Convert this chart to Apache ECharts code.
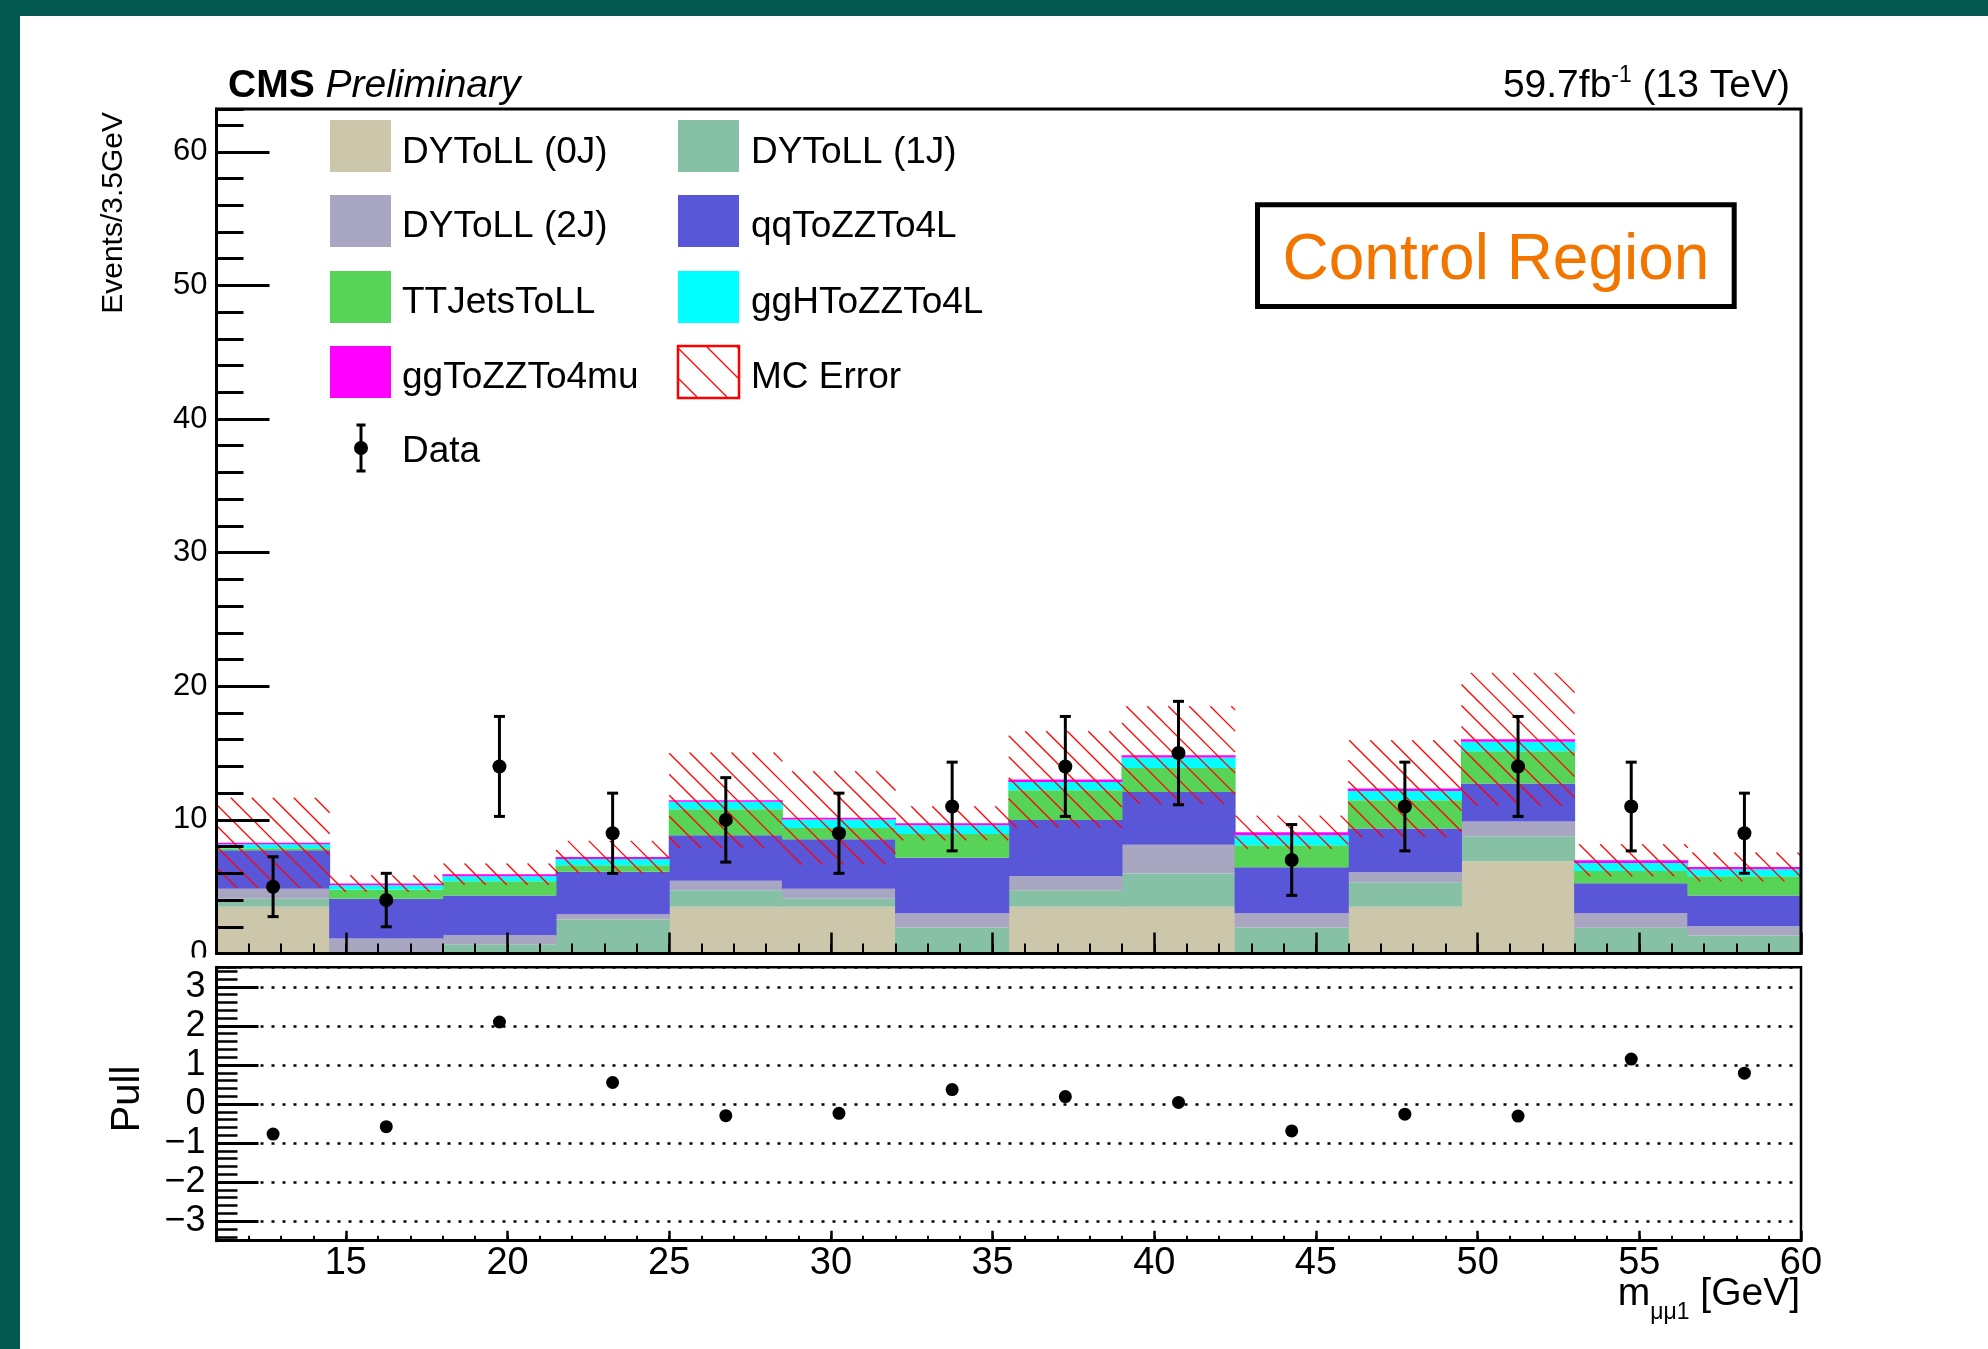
<!DOCTYPE html>
<html>
<head>
<meta charset="utf-8">
<title>Control Region - m_mumu1</title>
<script src="https://cdn.jsdelivr.net/npm/echarts@6/dist/echarts.min.js"></script>
<style>
  html, body { margin: 0; padding: 0; background: #ffffff; }
  #chart { width: 1988px; height: 1349px; }
</style>
</head>
<body>
<div id="chart"></div>
<script>
// ---- histogram content (3.5 GeV bins from 11 to 60 GeV) ----
const binEdges   = [11, 14.5, 18, 21.5, 25, 28.5, 32, 35.5, 39, 42.5, 46, 49.5, 53, 56.5, 60];
const binCenters = [12.75, 16.25, 19.75, 23.25, 26.75, 30.25, 33.75, 37.25, 40.75, 44.25, 47.75, 51.25, 54.75, 58.25];

// stacked MC components, events per bin
const dy0j    = [3.49, 0, 0, 0, 3.49, 3.49, 0, 3.49, 3.49, 0, 3.49, 6.91, 0, 0];
const dy1j    = [0.60, 0, 0.70, 2.55, 1.25, 0.60, 1.95, 1.25, 2.50, 1.95, 1.85, 1.87, 1.92, 1.35];
const dy2j    = [0.75, 1.12, 0.67, 0.39, 0.70, 0.75, 1.07, 1.05, 2.14, 1.07, 0.74, 1.10, 1.10, 0.69];
const qqzz    = [2.89, 2.97, 2.97, 3.17, 3.41, 3.71, 4.14, 4.21, 3.96, 3.44, 3.27, 2.84, 2.24, 2.30];
const ttjets  = [0.15, 0.70, 1.07, 0.50, 1.95, 0.85, 1.79, 2.22, 1.80, 1.64, 2.12, 2.42, 0.92, 1.45];
const gghzz   = [0.30, 0.32, 0.38, 0.47, 0.55, 0.62, 0.65, 0.62, 0.77, 0.75, 0.70, 0.70, 0.60, 0.52];
const ggzz4mu = [0.10, 0.13, 0.15, 0.15, 0.12, 0.13, 0.15, 0.18, 0.18, 0.23, 0.17, 0.19, 0.20, 0.17];

// total MC uncertainty per bin
const mcError = [3.37, 0.62, 0.79, 1.20, 3.57, 3.49, 1.27, 3.61, 3.66, 1.24, 3.62, 4.97, 1.20, 1.08];

// observed data and its uncertainty
const dataCounts = [5, 4, 14, 9, 10, 9, 11, 14, 15, 7, 11, 14, 11, 9];
const dataErrors = [2.24, 2.00, 3.74, 3.00, 3.16, 3.00, 3.32, 3.74, 3.87, 2.65, 3.32, 3.74, 3.32, 3.00];

// pull per bin
const pulls = [-0.77, -0.58, 2.10, 0.55, -0.30, -0.24, 0.37, 0.19, 0.04, -0.69, -0.26, -0.31, 1.15, 0.79];

const stackNames  = ['DYToLL (0J)', 'DYToLL (1J)', 'DYToLL (2J)', 'qqToZZTo4L', 'TTJetsToLL', 'ggHToZZTo4L', 'ggToZZTo4mu'];
const stackValues = [dy0j, dy1j, dy2j, qqzz, ttjets, gghzz, ggzz4mu];
const stackColors = ['#ccc7aa', '#86c1a6', '#a8a6c0', '#5a56d8', '#57d457', '#00ffff', '#ff00ff'];

// ---- helpers ----
const FONT = '"Liberation Sans", Arial, Helvetica, sans-serif';

// running sums give the lower edge of each stacked component
const stackBase = [];
let running = binCenters.map(() => 0);
stackValues.forEach(arr => {
  stackBase.push(running.slice());
  running = running.map((s, i) => s + arr[i]);
});
const mcTotal = running;

const measureCtx = document.createElement('canvas').getContext('2d');
function font(size, weight, style) {
  return (style || 'normal') + ' ' + (weight || 'normal') + ' ' + size + 'px ' + FONT;
}
function textWidth(str, size, weight, style) {
  measureCtx.font = font(size, weight, style);
  return measureCtx.measureText(str).width;
}
// vertical centre of a text line whose baseline sits at y
function mid(baseline, size) { return baseline - 0.35 * size; }

// 45 degree "\\\" hatch, aligned on one global lattice, clipped to a rectangle
function hatchLines(x0, y0, x1, y1, style, step, z) {
  const out = [];
  const cStart = Math.ceil((y0 - x1) / step) * step;
  for (let c = cStart; c <= y1 - x0; c += step) {
    const xa = Math.max(x0, y0 - c);
    const xb = Math.min(x1, y1 - c);
    if (xb > xa) {
      const seg = { type: 'line', shape: { x1: xa, y1: xa + c, x2: xb, y2: xb + c }, style: style };
      if (z != null) seg.z = z;
      out.push(seg);
    }
  }
  return out;
}

// ---- layout ----
const PLOT_LEFT = 216.5, PLOT_WIDTH = 1584.5;
const TOP_Y = 109, TOP_H = 844.5;
const PULL_Y = 967.3, PULL_H = 273.4;
const Y_MAX = 63.2;
const HATCH_STEP = 21;

const black = '#000000';

function valueAxis(extra) {
  return Object.assign({
    type: 'value',
    z: 10,
    axisLine: { show: true, onZero: false, lineStyle: { color: black, width: 3 } },
    axisTick: { show: true, inside: true, lineStyle: { color: black, width: 2.5 } },
    axisLabel: { show: false },
    splitLine: { show: false },
    axisPointer: { show: false }
  }, extra);
}

const xAxes = [
  valueAxis({ gridIndex: 0, position: 'bottom', min: 11, max: 60, minInterval: 5, maxInterval: 5,
    axisTick: { show: true, inside: true, length: 21, lineStyle: { color: black, width: 2.5 } } }),
  valueAxis({ gridIndex: 0, position: 'bottom', min: 11, max: 60, minInterval: 1, maxInterval: 1,
    axisLine: { show: false, onZero: false },
    axisTick: { show: true, inside: true, length: 10, lineStyle: { color: black, width: 2 } } }),
  valueAxis({ gridIndex: 1, position: 'bottom', min: 11, max: 60, minInterval: 5, maxInterval: 5,
    axisTick: { show: true, inside: true, length: 10, lineStyle: { color: black, width: 2.5 } },
    axisLabel: { show: true, color: black, fontFamily: FONT, fontSize: 38, margin: 23,
      verticalAlign: 'middle', showMinLabel: false } }),
  valueAxis({ gridIndex: 1, position: 'bottom', min: 11, max: 60, minInterval: 1, maxInterval: 1,
    axisLine: { show: false, onZero: false },
    axisTick: { show: true, inside: true, length: 5, lineStyle: { color: black, width: 2 } } })
];

const yAxes = [
  valueAxis({ gridIndex: 0, position: 'left', min: 0, max: Y_MAX, interval: 10,
    axisTick: { show: true, inside: true, length: 53, lineStyle: { color: black, width: 3 } },
    axisLabel: { show: true, color: black, fontFamily: FONT, fontSize: 31, margin: 9, showMaxLabel: false } }),
  valueAxis({ gridIndex: 0, position: 'left', min: 0, max: Y_MAX, interval: 2,
    axisLine: { show: false, onZero: false },
    axisTick: { show: true, inside: true, length: 27, lineStyle: { color: black, width: 3 } } }),
  valueAxis({ gridIndex: 1, position: 'left', min: -3.5, max: 3.5, minInterval: 1, maxInterval: 1,
    axisTick: { show: true, inside: true, length: 42, lineStyle: { color: black, width: 3 } },
    axisLabel: { show: true, color: black, fontFamily: FONT, fontSize: 36, margin: 11,
      showMinLabel: false, showMaxLabel: false,
      formatter: v => String(v).replace('-', '\u2212') },
    splitLine: { show: true, lineStyle: { color: black, width: 2.5, type: [3, 8] } } }),
  valueAxis({ gridIndex: 1, position: 'left', min: -3.5, max: 3.5, minInterval: 0.2, maxInterval: 0.2,
    axisLine: { show: false, onZero: false },
    axisTick: { show: true, inside: true, length: 21, lineStyle: { color: black, width: 2.5 } } })
];

// ---- series ----
// each MC component is drawn bin by bin as a filled box on top of the previous ones
const stackSeries = stackNames.map((name, k) => ({
  name: name,
  type: 'custom',
  xAxisIndex: 0, yAxisIndex: 0,
  silent: true,
  encode: { x: [0, 1], y: [2, 3] },
  data: binCenters.map((_, i) => [binEdges[i], binEdges[i + 1], stackBase[k][i], stackBase[k][i] + stackValues[k][i]]),
  renderItem: (params, api) => {
    if (api.value(3) <= api.value(2)) return null;
    const p0 = api.coord([api.value(0), api.value(3)]);
    const p1 = api.coord([api.value(1), api.value(2)]);
    return {
      type: 'rect',
      shape: { x: p0[0] - 0.5, y: p0[1], width: p1[0] - p0[0] + 1, height: p1[1] - p0[1] },
      style: { fill: stackColors[k] }
    };
  },
  z: 2
}));

const hatchStyle = { stroke: '#ff0000', lineWidth: 1.3 };
const mcErrorSeries = {
  name: 'MC Error',
  type: 'custom',
  xAxisIndex: 0, yAxisIndex: 0,
  silent: true,
  encode: { x: [0, 1], y: [2, 3] },
  data: mcTotal.map((t, i) => [binEdges[i], binEdges[i + 1], t - mcError[i], t + mcError[i]]),
  renderItem: (params, api) => {
    const p0 = api.coord([api.value(0), api.value(3)]);
    const p1 = api.coord([api.value(1), api.value(2)]);
    return { type: 'group', children: hatchLines(p0[0], p0[1], p1[0], p1[1], hatchStyle, HATCH_STEP) };
  },
  z: 3
};

const errStyle = { stroke: black, lineWidth: 3 };
const dataErrorSeries = {
  name: 'Data errors',
  type: 'custom',
  xAxisIndex: 0, yAxisIndex: 0,
  silent: true,
  encode: { x: 0, y: 1 },
  data: binCenters.map((c, i) => [c, dataCounts[i], dataErrors[i]]),
  renderItem: (params, api) => {
    const x = api.value(0), y = api.value(1), e = api.value(2);
    const lo = api.coord([x, y - e]);
    const hi = api.coord([x, y + e]);
    const cap = 5.5;
    return { type: 'group', children: [
      { type: 'line', shape: { x1: lo[0], y1: lo[1], x2: hi[0], y2: hi[1] }, style: errStyle },
      { type: 'line', shape: { x1: lo[0] - cap, y1: lo[1], x2: lo[0] + cap, y2: lo[1] }, style: errStyle },
      { type: 'line', shape: { x1: hi[0] - cap, y1: hi[1], x2: hi[0] + cap, y2: hi[1] }, style: errStyle }
    ] };
  },
  z: 4
};

const dataSeries = {
  name: 'Data',
  type: 'scatter',
  xAxisIndex: 0, yAxisIndex: 0,
  symbol: 'circle', symbolSize: 14,
  itemStyle: { color: black, opacity: 1 },
  silent: true,
  data: binCenters.map((c, i) => [c, dataCounts[i]]),
  z: 5
};

const pullSeries = {
  name: 'Pull',
  type: 'scatter',
  xAxisIndex: 2, yAxisIndex: 2,
  symbol: 'circle', symbolSize: 13,
  itemStyle: { color: black, opacity: 1 },
  silent: true,
  data: binCenters.map((c, i) => [c, pulls[i]]),
  z: 5
};

// ---- decorations: titles, legend, labels ----
const graphics = [];

// canvas frame band
graphics.push({ type: 'rect', z: 100, shape: { x: 0, y: 0, width: 1988, height: 16 }, style: { fill: '#03594f' } });
graphics.push({ type: 'rect', z: 100, shape: { x: 0, y: 0, width: 20, height: 1349 }, style: { fill: '#03594f' } });
// lower pad edge cuts the "0" label of the upper pad
graphics.push({ type: 'rect', z: 100, shape: { x: 150, y: 957.5, width: 62, height: 8 }, style: { fill: '#ffffff' } });

// CMS Preliminary
const cmsSize = 39, headBase = 100;
const cmsW = textWidth('CMS ', cmsSize, 'bold');
graphics.push({ type: 'text', x: 228, y: mid(headBase, cmsSize), z: 20,
  style: { text: 'CMS', font: font(cmsSize, 'bold'), fill: black, align: 'left', verticalAlign: 'middle' } });
graphics.push({ type: 'text', x: 228 + cmsW, y: mid(headBase, cmsSize), z: 20,
  style: { text: 'Preliminary', font: font(cmsSize, 'normal', 'italic'), fill: black, align: 'left', verticalAlign: 'middle' } });

// luminosity label
const lumiSize = 39, lumiSup = 23, lumiRight = 1790;
const wTail = textWidth(' (13 TeV)', lumiSize);
const wSup = textWidth('-1', lumiSup);
graphics.push({ type: 'text', x: lumiRight, y: mid(headBase, lumiSize), z: 20,
  style: { text: ' (13 TeV)', font: font(lumiSize), fill: black, align: 'right', verticalAlign: 'middle' } });
graphics.push({ type: 'text', x: lumiRight - wTail, y: mid(headBase - 16, lumiSup), z: 20,
  style: { text: '-1', font: font(lumiSup), fill: black, align: 'right', verticalAlign: 'middle' } });
graphics.push({ type: 'text', x: lumiRight - wTail - wSup, y: mid(headBase, lumiSize), z: 20,
  style: { text: '59.7fb', font: font(lumiSize), fill: black, align: 'right', verticalAlign: 'middle' } });

// region box
graphics.push({ type: 'rect', z: 20, shape: { x: 1257.5, y: 204.8, width: 476.7, height: 101.7 },
  style: { fill: '#ffffff', stroke: black, lineWidth: 5 } });
graphics.push({ type: 'text', x: 1496, y: 261, z: 21,
  style: { text: 'Control Region', font: font(64), fill: '#f27500', align: 'center', verticalAlign: 'middle' } });

// axis titles
graphics.push({ type: 'text', x: 114, y: 112, rotation: Math.PI / 2, z: 20,
  style: { text: 'Events/3.5GeV', font: font(30), fill: black, align: 'right', verticalAlign: 'middle' } });
graphics.push({ type: 'text', x: 128, y: 1099, rotation: Math.PI / 2, z: 20,
  style: { text: 'Pull', font: font(40), fill: black, align: 'center', verticalAlign: 'middle' } });

const xtSize = 39, xtSub = 23, xtRight = 1800;
const wUnit = textWidth(' [GeV]', xtSize);
const wSub = textWidth('\u03bc\u03bc1', xtSub);
graphics.push({ type: 'text', x: xtRight, y: mid(1308, xtSize), z: 20,
  style: { text: ' [GeV]', font: font(xtSize), fill: black, align: 'right', verticalAlign: 'middle' } });
graphics.push({ type: 'text', x: xtRight - wUnit, y: mid(1321, xtSub), z: 20,
  style: { text: '\u03bc\u03bc1', font: font(xtSub), fill: black, align: 'right', verticalAlign: 'middle' } });
graphics.push({ type: 'text', x: xtRight - wUnit - wSub, y: mid(1308, xtSize), z: 20,
  style: { text: 'm', font: font(xtSize), fill: black, align: 'right', verticalAlign: 'middle' } });

// legend (two columns, filled boxes, hatched box, marker)
const legendSwatchX = [330, 678];
const legendTextX = [402, 751];
const legendRowTop = [120, 195, 271, 346];
const legendTextY = [152.5, 227, 303, 377.5, 451.5];
const SW_W = 61, SW_H = 52, legendSize = 37;

const legendItems = stackNames.map((name, k) => ({ name: name, color: stackColors[k] }));
legendItems.push({ name: 'MC Error', hatch: true });
legendItems.forEach((item, idx) => {
  const col = idx % 2, row = Math.floor(idx / 2);
  const sx = legendSwatchX[col], sy = legendRowTop[row];
  if (item.hatch) {
    graphics.push({ type: 'rect', z: 20, shape: { x: sx, y: sy, width: SW_W, height: SW_H },
      style: { fill: '#ffffff', stroke: '#ff0000', lineWidth: 2.5 } });
    hatchLines(sx + 1, sy + 1, sx + SW_W - 1, sy + SW_H - 1, hatchStyle, 30, 22).forEach(seg => graphics.push(seg));
  } else {
    graphics.push({ type: 'rect', z: 20, shape: { x: sx, y: sy, width: SW_W, height: SW_H },
      style: { fill: item.color } });
  }
  graphics.push({ type: 'text', x: legendTextX[col], y: legendTextY[row], z: 20,
    style: { text: item.name, font: font(legendSize), fill: black, align: 'left', verticalAlign: 'middle' } });
});
// data marker entry
const mkX = 361, mkY = 448;
[
  { type: 'line', shape: { x1: mkX, y1: 425, x2: mkX, y2: 471 }, style: { stroke: black, lineWidth: 3 } },
  { type: 'line', shape: { x1: mkX - 4.5, y1: 425, x2: mkX + 4.5, y2: 425 }, style: { stroke: black, lineWidth: 3 } },
  { type: 'line', shape: { x1: mkX - 4.5, y1: 471, x2: mkX + 4.5, y2: 471 }, style: { stroke: black, lineWidth: 3 } },
  { type: 'circle', shape: { cx: mkX, cy: mkY, r: 7 }, style: { fill: black } }
].forEach(el => { el.z = 22; graphics.push(el); });
graphics.push({ type: 'text', x: legendTextX[0], y: legendTextY[4], z: 20,
  style: { text: 'Data', font: font(legendSize), fill: black, align: 'left', verticalAlign: 'middle' } });

// ---- chart ----
const chart = echarts.init(document.getElementById('chart'), null, { renderer: 'canvas' });
chart.setOption({
  animation: false,
  backgroundColor: '#ffffff',
  grid: [
    { left: PLOT_LEFT, top: TOP_Y, width: PLOT_WIDTH, height: TOP_H, show: true, z: 10,
      borderColor: black, borderWidth: 3, backgroundColor: 'transparent', containLabel: false, outerBoundsMode: 'none' },
    { left: PLOT_LEFT, top: PULL_Y, width: PLOT_WIDTH, height: PULL_H, show: true, z: 10,
      borderColor: black, borderWidth: 2.5, backgroundColor: 'transparent', containLabel: false, outerBoundsMode: 'none' }
  ],
  xAxis: xAxes,
  yAxis: yAxes,
  series: stackSeries.concat([mcErrorSeries, dataErrorSeries, dataSeries, pullSeries]),
  graphic: { elements: graphics }
});
</script>
</body>
</html>
